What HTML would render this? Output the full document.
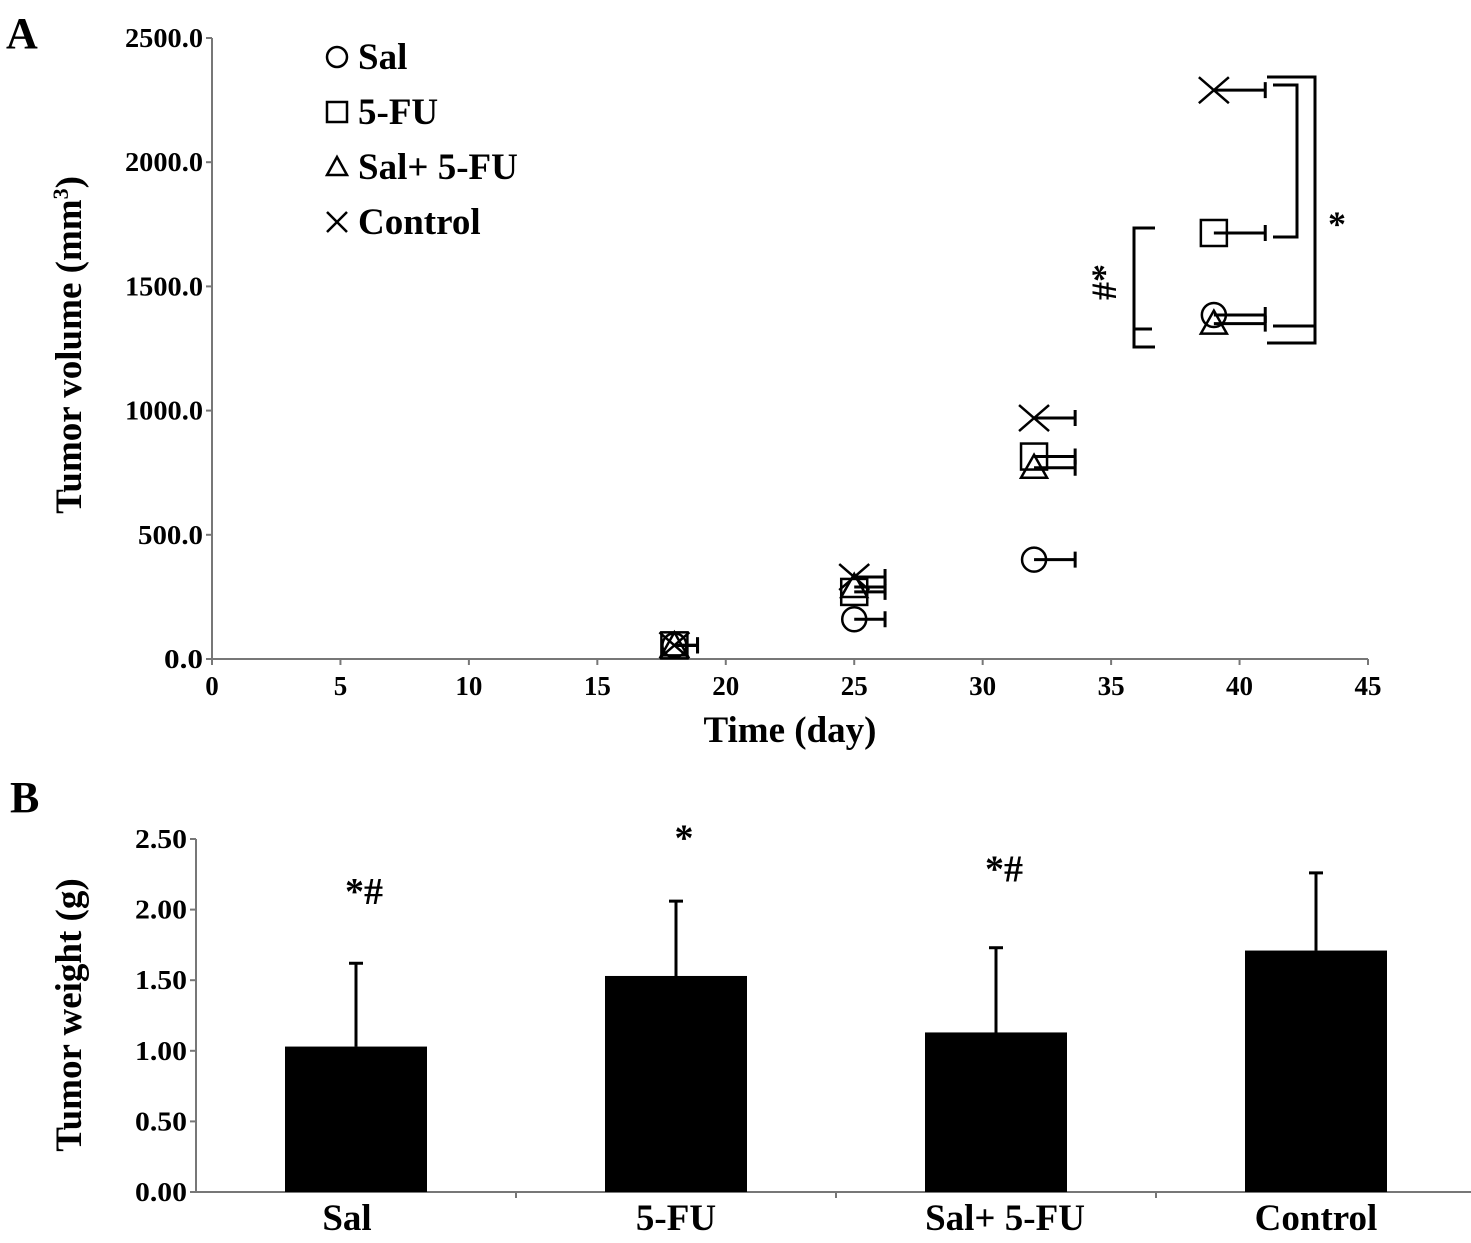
<!DOCTYPE html>
<html><head><meta charset="utf-8"><style>
html,body{margin:0;padding:0;background:#fff}
svg{display:block;font-family:"Liberation Serif",serif;font-weight:bold}
</style></head><body>
<svg id="chart" width="1471" height="1243" viewBox="0 0 1471 1243" xmlns="http://www.w3.org/2000/svg">
<text x="6" y="48" font-size="44">A</text>
<text x="10" y="812" font-size="44">B</text>
<g id="ga"></g>
<g id="gb"></g>
</svg>
<script>
const NS="http://www.w3.org/2000/svg";
function mk(p,t,a,txt){const e=document.createElementNS(NS,t);for(const k in a)e.setAttribute(k,a[k]);if(txt!==undefined)e.textContent=txt;p.appendChild(e);return e;}

// Panel A data
const days=[18,25,32,39];
const salVals=[55,160,400,1385];
const fuVals=[55,270,815,1715];
const combVals=[55,290,770,1350];
const ctrlVals=[55,330,970,2290];
const errDays=[0.9,1.2,1.6,2.0];
const yTicksA=[0,500,1000,1500,2000,2500];
const xTicksA=[0,5,10,15,20,25,30,35,40,45];

const ga=document.getElementById('ga');
const xA=d=>212+d*(1368-212)/45;
const yA=v=>659-v*(659-38)/2500;
let e;
e=mk(ga,'line',{x1:212,y1:38,x2:212,y2:659,stroke:'#777','stroke-width':2});

e=mk(ga,'line',{x1:212,y1:659,x2:1368,y2:659,stroke:'#777','stroke-width':2});

yTicksA.forEach(v=>{
  mk(ga,'line',{x1:206,y1:yA(v),x2:212,y2:yA(v),stroke:'#777','stroke-width':2});
  const s=v.toFixed(1);
  e=mk(ga,'text',{x:203,y:yA(v)+9,'font-size':27,'text-anchor':'end','textLength':s.length*13,'lengthAdjust':'spacingAndGlyphs'},s);
  
});
xTicksA.forEach(v=>{
  mk(ga,'line',{x1:xA(v),y1:659,x2:xA(v),y2:665,stroke:'#777','stroke-width':2});
  e=mk(ga,'text',{x:xA(v),y:695,'font-size':27,'text-anchor':'middle'},v);
  
});
e=mk(ga,'text',{x:790,y:742,'font-size':37,'text-anchor':'middle'},'Time (day)');

e=mk(ga,'text',{x:0,y:0,'font-size':37,'text-anchor':'middle',transform:'translate(81,345) rotate(-90)'});

e.innerHTML='Tumor volume (mm<tspan dy="-13" font-size="22">3</tspan><tspan dy="13">)</tspan>';

function marker(p,kind,x,y){
  const s={fill:'none',stroke:'#000','stroke-width':2.5};
  if(kind==='o')return mk(p,'circle',Object.assign({cx:x,cy:y,r:12},s));
  if(kind==='s')return mk(p,'rect',Object.assign({x:x-13,y:y-13,width:26,height:26},s));
  if(kind==='t')return mk(p,'path',Object.assign({d:`M${x} ${y-13}L${x+13} ${y+10}L${x-13} ${y+10}Z`},s));
  return mk(p,'path',Object.assign({d:`M${x-15} ${y-13}L${x+15} ${y+13}M${x+15} ${y-13}L${x-15} ${y+13}`},s));
}
const series=[['o',salVals,'sal'],['s',fuVals,'5fu'],['t',combVals,'sal-5fu'],['x',ctrlVals,'control']];
series.forEach(([k,vals,nm])=>{
  vals.forEach((v,i)=>{
    const x=xA(days[i]),y=yA(v),xe=xA(days[i]+errDays[i]);
    e=mk(ga,'path',{d:`M${x} ${y}H${xe}M${xe} ${y-8}V${y+8}`,stroke:'#000','stroke-width':3,fill:'none'});
    
    e=marker(ga,k,x,y);
    
  });
});
// legend
const leg=[['o','Sal'],['s','5-FU'],['t','Sal+ 5-FU'],['x','Control']];
leg.forEach(([k,t],i)=>{
  const y=57+i*55;
  const g=mk(ga,'g',{});
  
  const m={fill:'none',stroke:'#000','stroke-width':2.5};
  if(k==='o')mk(g,'circle',Object.assign({cx:337,cy:y,r:10},m));
  if(k==='s')mk(g,'rect',Object.assign({x:327,y:y-10,width:20,height:20},m));
  if(k==='t')mk(g,'path',Object.assign({d:`M337 ${y-10}L347 ${y+8}L327 ${y+8}Z`},m));
  if(k==='x')mk(g,'path',Object.assign({d:`M327 ${y-10}L347 ${y+10}M347 ${y-10}L327 ${y+10}`},m));
  mk(g,'text',{x:358,y:y+12,'font-size':37},t);
});
// significance brackets
e=mk(ga,'path',{d:'M1155 228H1134V347H1155M1134 329H1152',stroke:'#000','stroke-width':3,fill:'none'});

e=mk(ga,'text',{x:0,y:0,'font-size':36,'text-anchor':'middle',transform:'translate(1116,282) rotate(-90)'},'#*');

e=mk(ga,'path',{d:'M1273 85H1297V237H1273',stroke:'#000','stroke-width':3,fill:'none'});

e=mk(ga,'path',{d:'M1267 77H1315V343H1267M1273 326H1315',stroke:'#000','stroke-width':3,fill:'none'});

e=mk(ga,'text',{x:1337,y:236,'font-size':36,'text-anchor':'middle'},'*');


// Panel B data
const cats=['Sal','5-FU','Sal+ 5-FU','Control'];
const weights=[1.03,1.53,1.13,1.71];
const weightErr=[0.59,0.53,0.60,0.55];
const sigLabels=['*#','*','*#',''];
const sigHeights=[2.04,2.42,2.2,0];
const yTicksB=[0,0.5,1,1.5,2,2.5];

const gb=document.getElementById('gb');
const x0=196,catW=320;
const yB=v=>1192-v*(1192-839)/2.5;
const cx=i=>x0+catW*(i+0.5);
e=mk(gb,'line',{x1:x0,y1:839,x2:x0,y2:1192,stroke:'#777','stroke-width':2});

e=mk(gb,'line',{x1:x0,y1:1192,x2:x0+catW*4,y2:1192,stroke:'#777','stroke-width':2});

yTicksB.forEach(v=>{
  mk(gb,'line',{x1:x0-6,y1:yB(v),x2:x0,y2:yB(v),stroke:'#777','stroke-width':2});
  e=mk(gb,'text',{x:187,y:yB(v)+9,'font-size':27,'text-anchor':'end','textLength':52,'lengthAdjust':'spacingAndGlyphs'},v.toFixed(2));
  
});
for(let i=1;i<4;i++)mk(gb,'line',{x1:x0+catW*i,y1:1192,x2:x0+catW*i,y2:1198,stroke:'#777','stroke-width':2});
e=mk(gb,'text',{x:0,y:0,'font-size':37,'text-anchor':'middle',transform:'translate(81,1015) rotate(-90)'},'Tumor weight (g)');

cats.forEach((c,i)=>{
  const x=cx(i),top=yB(weights[i]),et=yB(weights[i]+weightErr[i]);
  e=mk(gb,'line',{x1:x,y1:top,x2:x,y2:et,stroke:'#000','stroke-width':3});
  
  mk(gb,'line',{x1:x-7,y1:et,x2:x+7,y2:et,stroke:'#000','stroke-width':3});
  e=mk(gb,'rect',{x:x-71,y:top,width:142,height:1192-top,fill:'#000'});
  
  e=mk(gb,'text',{x:x+(i===0?-9:i===2?9:0),y:1230,'font-size':37,'text-anchor':'middle'},c);
  
  if(sigLabels[i]){
    e=mk(gb,'text',{x:x+8,y:yB(sigHeights[i]),'font-size':38,'text-anchor':'middle'},sigLabels[i]);
    
  }
});
</script>
</body></html>
